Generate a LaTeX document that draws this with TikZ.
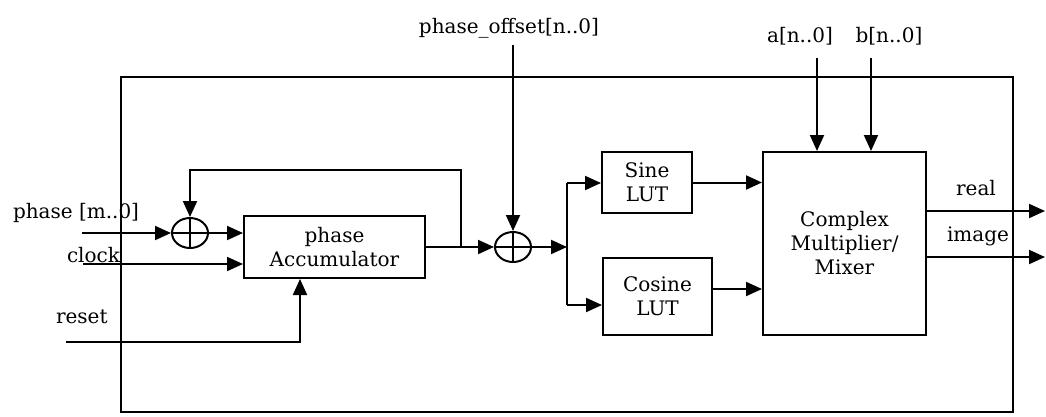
\documentclass[tikz,border=0pt]{standalone}
\usepackage{fontspec}
\setmainfont{DejaVu Serif}
\usetikzlibrary{arrows.meta,shapes.geometric}
\begin{document}
\begin{tikzpicture}[x=1pt,y=-1pt,
  line width=2pt,
  every node/.style={font=\fontsize{20}{24}\selectfont},
  blk/.style={draw,rectangle,align=center,inner sep=0pt},
  adder/.style={draw,ellipse,minimum width=36pt,minimum height=30pt,inner sep=0pt},
  lbl/.style={inner sep=0pt},
  arr/.style={-{Triangle[length=16pt,width=14pt]}}]
\useasboundingbox (0,0) rectangle (1046,416);
% outer frame
\draw (121,77) rectangle (1013,412);
% blocks
\node[blk,minimum width=181pt,minimum height=62pt] (acc) at (334.5,247) {phase\\Accumulator};
\node[blk,minimum width=90pt,minimum height=61pt] (sin) at (647,182.5) {Sine\\LUT};
\node[blk,minimum width=109pt,minimum height=77pt] (cos) at (657.5,296.5) {Cosine\\LUT};
\node[blk,minimum width=163pt,minimum height=183pt] (cm) at (844.5,243.5) {Complex\\Multiplier/\\Mixer};
\node[adder] (a1) at (190,233) {};
\node[adder] (a2) at (513,247) {};
\draw (a1.north) -- (a1.south) (a1.west) -- (a1.east);
\draw (a2.north) -- (a2.south) (a2.west) -- (a2.east);
% labels
\node[lbl,anchor=base west] (lphase) at (12,218) {phase [m..0]};
\node[lbl,anchor=base west] (lclock) at (66,262) {clock};
\node[lbl,anchor=base west] (lreset) at (55,323) {reset};
\node[lbl,anchor=base] (loff) at (509,33) {phase\_offset[n..0]};
\node[lbl,anchor=base] (la) at (800,42) {a[n..0]};
\node[lbl,anchor=base] (lb) at (889,42) {b[n..0]};
\node[lbl,anchor=base] (lreal) at (976,195) {real};
\node[lbl,anchor=base] (limg) at (978,241) {image};
% coordinates for free ends
\coordinate (pin) at (82,233);
\coordinate (cin) at (83,264);
\coordinate (rin) at (66,342);
\coordinate (rcorner) at (300,342);
\coordinate (oin) at (513,45);
\coordinate (ain) at (817,58);
\coordinate (bin) at (871,58);
\coordinate (fb) at (461,247);
\coordinate (fbtop) at (461,170);
\coordinate (fbleft) at (190,170);
\coordinate (jn) at (567,247);
\coordinate (jtop) at (567,183);
\coordinate (jbot) at (567,305);
\coordinate (rout) at (1045,211);
\coordinate (iout) at (1045,257);
% connectors
\draw[arr] (pin) -- (a1.west);
\draw[arr] (a1.east) -- (a1.east -| acc.west);
\draw[arr] (cin) -- (cin -| acc.west);
\draw[arr] (rin) -- (rcorner) -- (rcorner |- acc.south);
\draw[arr] (acc.east) -- (a2.west);
\draw[arr] (fb) -- (fbtop) -- (fbleft) -- (a1.north);
\draw[arr] (oin) -- (a2.north);
\draw[arr] (a2.east) -- (jn);
\draw (jtop) -- (jbot);
\draw[arr] (jtop) -- (jtop -| sin.west);
\draw[arr] (jbot) -- (jbot -| cos.west);
\draw[arr] (sin.east) -- (sin.east -| cm.west);
\draw[arr] (cos.east |- 0,289) -- (cm.west |- 0,289);
\draw[arr] (ain) -- (ain |- cm.north);
\draw[arr] (bin) -- (bin |- cm.north);
\draw[arr] (cm.east |- rout) -- (rout);
\draw[arr] (cm.east |- iout) -- (iout);
\end{tikzpicture}
\end{document}
